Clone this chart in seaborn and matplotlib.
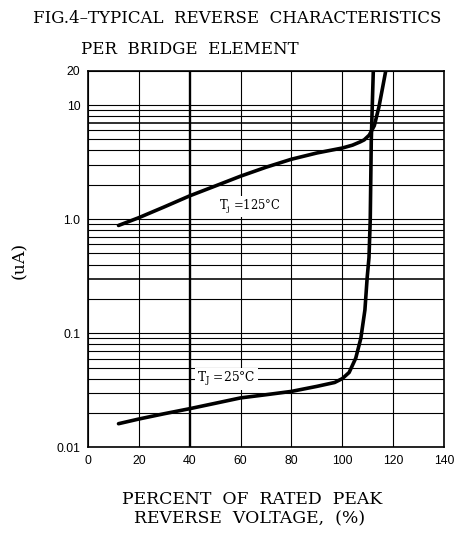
import matplotlib
matplotlib.use('Agg')
import matplotlib.pyplot as plt
import seaborn as sns
import pandas as pd
from matplotlib.ticker import FixedLocator, FixedFormatter, NullFormatter

# ---- data ----
x_ticks = [0, 20, 40, 60, 80, 100, 120, 140]
y_ticks = [0.01, 0.1, 1.0, 10, 20]
y_tick_labels = ['0.01', '0.1', '1.0', '10', '20']
y_minor = [k * 10.0 ** d for d in (-2, -1, 0) for k in range(2, 10)]

pct_125 = [12, 20, 30, 40, 50, 60, 70, 80, 90, 100, 104, 107, 108.6, 110.6, 112.6, 114.4, 115.8, 117.1]
ir_125 = [0.88, 1.03, 1.28, 1.6, 1.95, 2.38, 2.85, 3.35, 3.8, 4.2, 4.45, 4.75, 4.95, 5.45, 6.6, 9.6, 14.0, 20.0]

pct_25 = [12, 20, 30, 40, 50, 60, 70, 80, 90, 97, 100, 102.7, 105.3, 107.3, 108.9, 109.8, 110.5, 111.0, 111.4, 111.8, 112.2]
ir_25 = [0.0161, 0.0177, 0.0197, 0.0218, 0.0243, 0.0271, 0.0289, 0.0309, 0.0342, 0.037, 0.040, 0.0453, 0.0605, 0.0904, 0.16, 0.31, 0.46, 1.0, 4.9, 10.0, 20.0]

label_125 = 'T$_\\mathregular{j}$ =125°C'
label_25 = 'T$_\\mathregular{J}$ =25°C'

sns.set_theme(style='white')
plt.rcParams['font.family'] = ['DejaVu Serif']
plt.rcParams['mathtext.default'] = 'regular'

fig = plt.figure(figsize=(4.56, 5.43), dpi=100)
ax = fig.add_axes([88 / 456, 95.7 / 543, 356 / 456, 376.6 / 543])

df125 = pd.DataFrame({'pct': pct_125, 'ir': ir_125})
df25 = pd.DataFrame({'pct': pct_25, 'ir': ir_25})
sns.lineplot(data=df125, x='pct', y='ir', color='black', lw=2.6, sort=False,
             estimator=None, ax=ax, legend=False, zorder=5)
sns.lineplot(data=df25, x='pct', y='ir', color='black', lw=2.6, sort=False,
             estimator=None, ax=ax, legend=False, zorder=5)

ax.set_yscale('log')
ax.set_xlim(0, 140)
ax.set_ylim(0.01, 20)

ax.xaxis.set_major_locator(FixedLocator(x_ticks))
ax.set_xticklabels([str(v) for v in x_ticks])
ax.yaxis.set_major_locator(FixedLocator(y_ticks))
ax.yaxis.set_major_formatter(FixedFormatter(y_tick_labels))
ax.yaxis.set_minor_locator(FixedLocator(y_minor))
ax.yaxis.set_minor_formatter(NullFormatter())

ax.grid(which='both', axis='both', color='black', lw=0.8)
ax.set_axisbelow(True)
for sp in ax.spines.values():
    sp.set_color('black')
    sp.set_linewidth(1.2)

ax.tick_params(which='both', length=0)
ax.tick_params(axis='x', pad=5.5, labelsize=8.8)
ax.tick_params(axis='y', pad=5.5, labelsize=8.8)
for t in ax.get_xticklabels() + ax.get_yticklabels():
    t.set_fontfamily('Liberation Sans')
    t.set_color('black')

ax.set_xlabel('')
ax.set_ylabel('')

# slightly heavier grid lines seen in the reference
fig.canvas.draw()
for tk in ax.xaxis.get_major_ticks():
    if abs(tk.get_loc() - 40) < 1e-6:
        tk.gridline.set_linewidth(1.7)
for tk in ax.yaxis.get_minor_ticks():
    loc = tk.get_loc()
    if abs(loc - 0.3) < 1e-9 or abs(loc - 7) < 1e-9:
        tk.gridline.set_linewidth(1.15)

# curve labels (white box hides grid behind)
ax.text(51.5, 1.29, label_125, fontsize=8.3, ha='left', va='center', color='black',
        bbox=dict(facecolor='white', edgecolor='none', pad=1.0), zorder=6)
ax.text(43.0, 0.04, label_25, fontsize=8.8, ha='left', va='center', color='black',
        bbox=dict(facecolor='white', edgecolor='none', pad=1.5), zorder=6)

# titles and axis labels
fig.text(33 / 456, 1 - 18.3 / 543, 'FIG.4\u2013TYPICAL  REVERSE  CHARACTERISTICS',
         fontsize=12, ha='left', va='center', color='black')
fig.text(81 / 456, 1 - 49 / 543, 'PER  BRIDGE  ELEMENT',
         fontsize=12, ha='left', va='center', color='black')
fig.text(252 / 456, 1 - 500 / 543, 'PERCENT  OF  RATED  PEAK',
         fontsize=12.4, ha='center', va='center', color='black')
fig.text(250 / 456, 1 - 519 / 543, 'REVERSE  VOLTAGE,  (%)',
         fontsize=12.4, ha='center', va='center', color='black')
fig.text(20 / 456, 1 - 260 / 543, '(uA)', fontsize=12.5, rotation=90,
         ha='center', va='center', color='black')

fig.savefig('out.png', dpi=100, facecolor='white')
